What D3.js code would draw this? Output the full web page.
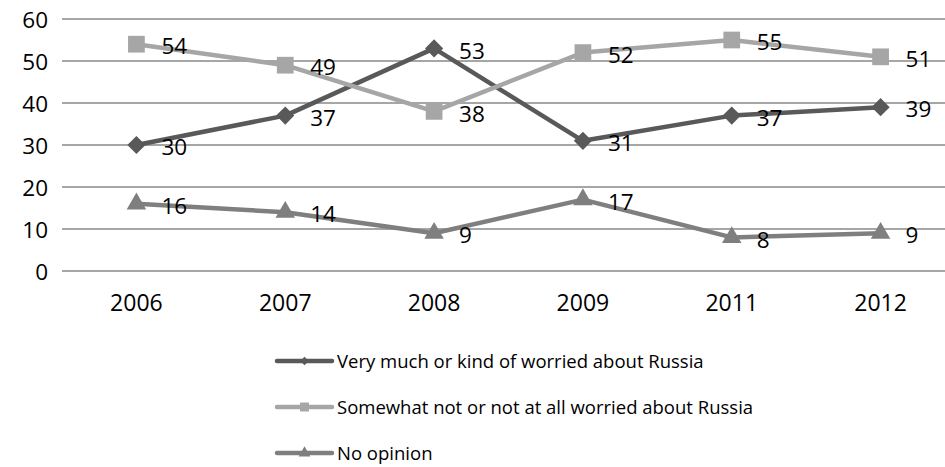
<!DOCTYPE html>
<html>
<head>
<meta charset="utf-8">
<script src="https://cdn.jsdelivr.net/npm/d3@7"></script>
<style>
  html, body { margin: 0; padding: 0; background: #fff; }
  svg { display: block; font-family: "Open Sans", sans-serif; }
</style>
</head>
<body>
<svg id="chart" width="945" height="467"></svg>
<script>
// Survey years and the share (%) giving each answer
const years = ["2006", "2007", "2008", "2009", "2011", "2012"];
const worried = [30, 37, 53, 31, 37, 39];
const notWorried = [54, 49, 38, 52, 55, 51];
const noOpinion = [16, 14, 9, 17, 8, 9];
const yTicks = [0, 10, 20, 30, 40, 50, 60];

const seriesNames = [
  "Very much or kind of worried about Russia",
  "Somewhat not or not at all worried about Russia",
  "No opinion"
];

// Marker shapes: a diamond is a square turned 45 degrees
const series = [
  { name: seriesNames[0], values: worried, color: "#595959", marker: d3.symbolSquare, rotate: 45, big: 165, small: 36 },
  { name: seriesNames[1], values: notWorried, color: "#a6a6a6", marker: d3.symbolSquare, rotate: 0, big: 280, small: 80 },
  { name: seriesNames[2], values: noOpinion, color: "#7f7f7f", marker: d3.symbolTriangle, rotate: 0, big: 165, small: 60 }
];

const svg = d3.select("#chart");

const x = d3.scaleBand().domain(years).range([62, 955]);
const y = d3.scaleLinear().domain([0, 60]).range([271, 19]);
const cx = d => x(d) + x.bandwidth() / 2;

// Horizontal gridlines
svg.append("g")
  .selectAll("line")
  .data(yTicks)
  .join("line")
  .attr("x1", 62).attr("x2", 945)
  .attr("y1", d => y(d)).attr("y2", d => y(d))
  .attr("stroke", "#888").attr("stroke-width", 1.5);

// Y axis labels
const yAxis = d3.axisLeft(y).tickValues(yTicks).tickSize(0).tickPadding(0);
svg.append("g")
  .attr("transform", "translate(48,0)")
  .call(yAxis)
  .call(g => g.select(".domain").remove())
  .call(g => g.selectAll("text")
    .attr("font-family", "'Open Sans', sans-serif")
    .attr("font-size", 22.5).attr("fill", "#000").attr("dy", "0.36em"));

// X axis labels
const xAxis = d3.axisBottom(x).tickSize(0).tickPadding(0);
svg.append("g")
  .attr("transform", "translate(0,294)")
  .call(xAxis)
  .call(g => g.select(".domain").remove())
  .call(g => g.selectAll("text")
    .attr("font-family", "'Open Sans', sans-serif")
    .attr("font-size", 23).attr("fill", "#000").attr("dy", "0.75em"));

const line = d3.line().x((d, i) => cx(years[i])).y(d => y(d));

series.forEach(s => {
  const g = svg.append("g");
  g.append("path")
    .attr("d", line(s.values))
    .attr("fill", "none")
    .attr("stroke", s.color)
    .attr("stroke-width", 4.5)
    .attr("stroke-linejoin", "round");
  g.selectAll("path.m")
    .data(s.values)
    .join("path")
    .attr("class", "m")
    .attr("transform", (d, i) => `translate(${cx(years[i])},${y(d)}) rotate(${s.rotate})`)
    .attr("d", d3.symbol(s.marker, s.big))
    .attr("fill", s.color);
});

// Value labels to the right of each point
series.forEach(s => {
  svg.append("g")
    .selectAll("text")
    .data(s.values)
    .join("text")
    .attr("x", (d, i) => cx(years[i]) + 25)
    .attr("y", d => y(d) + 2)
    .attr("dy", "0.36em")
    .attr("font-size", 22.5)
    .attr("fill", "#000")
    .text(d => d);
});

// Legend
const legend = svg.append("g");
series.forEach((s, i) => {
  const ly = 361 + i * 46;
  legend.append("line")
    .attr("x1", 277).attr("x2", 332)
    .attr("y1", ly).attr("y2", ly)
    .attr("stroke", s.color).attr("stroke-width", 4.5)
    .attr("stroke-linecap", "round");
  legend.append("path")
    .attr("transform", `translate(304.5,${ly}) rotate(${s.rotate})`)
    .attr("d", d3.symbol(s.marker, s.small))
    .attr("fill", s.color);
  legend.append("text")
    .attr("x", 337).attr("y", ly)
    .attr("dy", "0.36em")
    .attr("font-size", 18.5)
    .attr("fill", "#000")
    .text(s.name);
});
</script>
</body>
</html>
